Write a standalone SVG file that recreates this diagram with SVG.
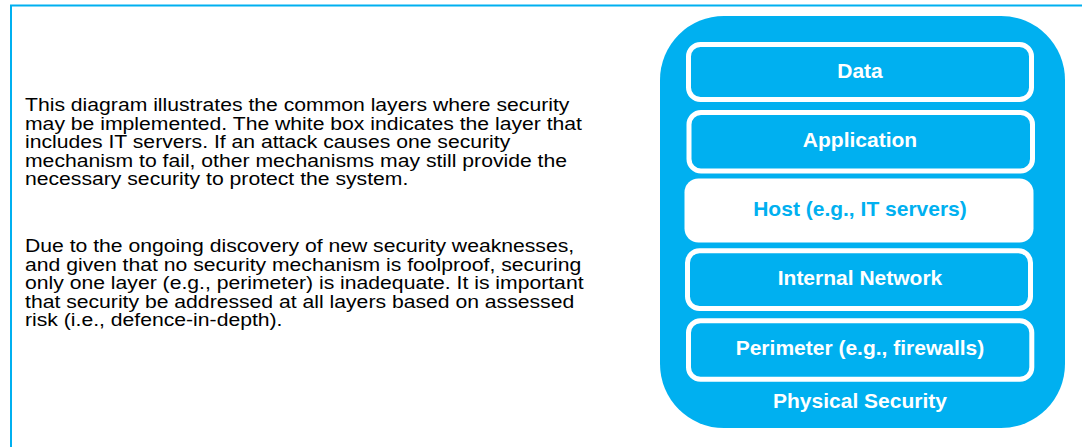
<svg xmlns="http://www.w3.org/2000/svg" width="1082" height="447" viewBox="0 0 1082 447">
  <style>
    .frame { fill: none; stroke: #00B0F0; stroke-width: 2; }
    .body { font-family: "Liberation Sans", Arial, sans-serif; font-size: 17.5px; fill: #000000; }
    .layer { fill: #00B0F0; stroke: #FFFFFF; stroke-width: 5; }
    .host { fill: #FFFFFF; stroke: none; }
    .lbl { font-family: "Liberation Sans", Arial, sans-serif; font-size: 21px; font-weight: bold; fill: #FFFFFF; text-anchor: middle; }
    .lbl-host { fill: #00B0F0; }
  </style>
  <rect x="0" y="0" width="1082" height="447" fill="#FFFFFF"/>
  <rect class="frame" x="11" y="5.5" width="1100" height="460"/>

  <g id="description" transform="translate(25,0) scale(1.21,1)">
    <text class="body" x="0" y="111.5">This diagram illustrates the common layers where security</text>
    <text class="body" x="0" y="130">may be implemented. The white box indicates the layer that</text>
    <text class="body" x="0" y="148.5">includes IT servers. If an attack causes one security</text>
    <text class="body" x="0" y="167">mechanism to fail, other mechanisms may still provide the</text>
    <text class="body" x="0" y="185.5">necessary security to protect the system.</text>
    <text class="body" x="0" y="252.5">Due to the ongoing discovery of new security weaknesses,</text>
    <text class="body" x="0" y="271">and given that no security mechanism is foolproof, securing</text>
    <text class="body" x="0" y="289.5">only one layer (e.g., perimeter) is inadequate. It is important</text>
    <text class="body" x="0" y="308">that security be addressed at all layers based on assessed</text>
    <text class="body" x="0" y="326.5">risk (i.e., defence-in-depth).</text>
  </g>

  <g id="physical-security">
    <rect x="660" y="16" width="405" height="412" rx="64" ry="64" fill="#00B0F0"/>
    <text class="lbl" x="860" y="408">Physical Security</text>
  </g>
  <g id="data">
    <rect class="layer" x="688.5" y="44.5" width="343" height="55" rx="12"/>
    <text class="lbl" x="860" y="78">Data</text>
  </g>
  <g id="application">
    <rect class="layer" x="689" y="112.5" width="343.5" height="58.5" rx="12"/>
    <text class="lbl" x="860" y="147">Application</text>
  </g>
  <g id="host">
    <rect class="host" x="684.5" y="178.5" width="349" height="64" rx="14"/>
    <text class="lbl lbl-host" x="860" y="216">Host (e.g., IT servers)</text>
  </g>
  <g id="internal-network">
    <rect class="layer" x="687.5" y="250.8" width="343" height="57.7" rx="12"/>
    <text class="lbl" x="860" y="285">Internal Network</text>
  </g>
  <g id="perimeter">
    <rect class="layer" x="688.5" y="320.8" width="343.3" height="58.4" rx="12"/>
    <text class="lbl" x="860" y="355">Perimeter (e.g., firewalls)</text>
  </g>
  <g id="connectors"></g>
</svg>
